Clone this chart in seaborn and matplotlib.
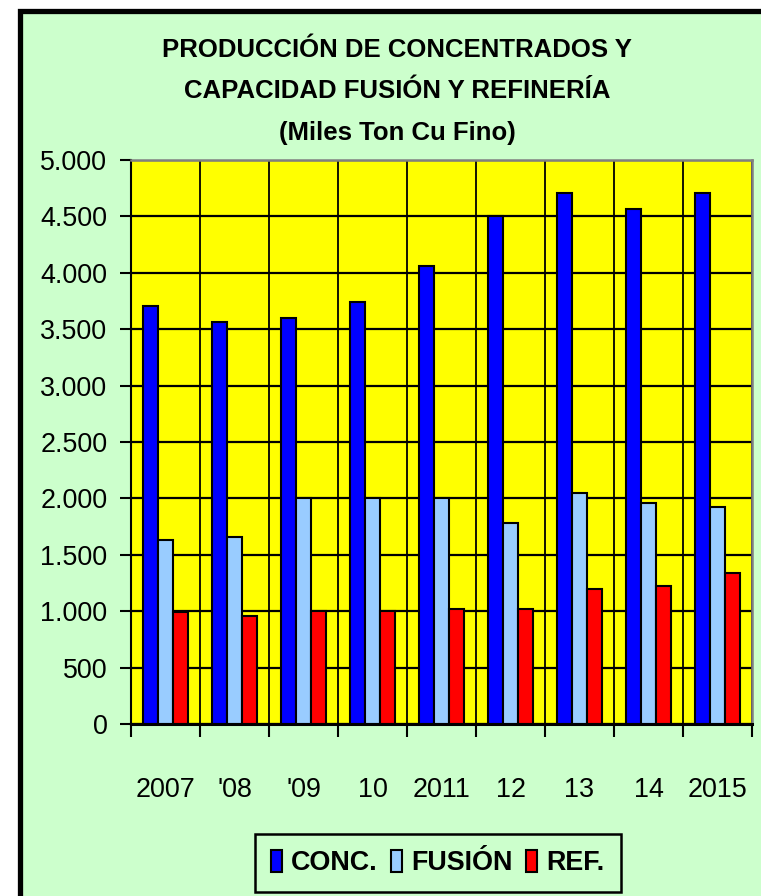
import matplotlib
matplotlib.use("Agg")
import matplotlib.pyplot as plt
from matplotlib import font_manager as fm
from matplotlib.patches import Rectangle
from matplotlib.ticker import FuncFormatter, FixedLocator
import seaborn as sns
import pandas as pd

# datos (miles de ton Cu fino)
anios = ["2007", "'08", "'09", "10", "2011", "12", "13", "14", "2015"]
conc = [3710, 3565, 3595, 3745, 4060, 4505, 4710, 4565, 4710]
fusion = [1635, 1660, 2000, 2000, 2000, 1780, 2045, 1955, 1925]
ref = [990, 960, 1000, 1000, 1020, 1020, 1195, 1225, 1340]
series = ["CONC.", "FUSIÓN", "REF."]
titulo = ["PRODUCCIÓN DE CONCENTRADOS Y",
          "CAPACIDAD FUSIÓN Y REFINERÍA",
          "(Miles Ton Cu Fino)"]

colores = ["#0000FF", "#99CCFF", "#FF0000"]
verde = "#CCFFCC"


def hay_fuente(nombre):
    try:
        fm.findfont(fm.FontProperties(family=nombre), fallback_to_default=False)
        return True
    except ValueError:
        return False


if hay_fuente("Liberation Sans Narrow"):
    fuente, k = "Liberation Sans Narrow", 1.0
else:
    fuente, k = "Liberation Sans", 0.88
plt.rcParams["font.family"] = [fuente, "DejaVu Sans"]

df = pd.DataFrame({
    "anio": anios * 3,
    "valor": conc + fusion + ref,
    "serie": [series[0]] * 9 + [series[1]] * 9 + [series[2]] * 9,
})

fig = plt.figure(figsize=(7.61, 8.96), dpi=100, facecolor="white")
# marco del area del grafico
fig.patches.append(Rectangle((20 / 761, -0.1), 1.2, 1.1 - 11 / 896,
                             transform=fig.transFigure, facecolor=verde,
                             edgecolor="black", linewidth=3.8, zorder=-10))

ax = fig.add_axes([131 / 761, 1 - 724 / 896, (752 - 131) / 761, (724 - 160) / 896])
ax.set_facecolor("#FFFF00")
ax.set_axisbelow(True)

sns.barplot(data=df, x="anio", y="valor", hue="serie", palette=colores,
            width=0.64, edgecolor="black", linewidth=1.5, saturation=1,
            ax=ax)

ax.set_xlim(-0.5, 8.5)
ax.set_ylim(0, 5000)
ax.set_yticks(range(0, 5001, 500))
ax.yaxis.set_major_formatter(FuncFormatter(lambda v, p: f"{int(v):,}".replace(",", ".")))
ax.xaxis.set_minor_locator(FixedLocator([i - 0.5 for i in range(10)]))
ax.grid(axis="y", color="black", linewidth=1.6)
ax.grid(axis="x", which="minor", color="black", linewidth=1.3)
ax.grid(axis="x", which="major", visible=False)
ax.set_xlabel("")
ax.set_ylabel("")

ax.tick_params(axis="y", length=8, width=1.5, pad=9, labelsize=22 * k)
ax.tick_params(axis="x", which="major", length=0, pad=38, labelsize=22 * k)
ax.tick_params(axis="x", which="minor", length=9, width=1.5, direction="out")

for lado in ["top", "right"]:
    ax.spines[lado].set_color("#808080")
    ax.spines[lado].set_linewidth(1.8)
ax.spines["left"].set_linewidth(1.5)
ax.spines["bottom"].set_linewidth(2.2)

for texto, y in zip(titulo, [50, 91, 133]):
    fig.text(397 / 761, 1 - y / 896, texto, ha="center", va="center",
             fontsize=18.5, fontweight="bold", family=["Liberation Sans", "DejaVu Sans"])

handles, labels = ax.get_legend_handles_labels()
ax.get_legend().remove()
leg = fig.legend(handles, labels, loc="upper left",
                 bbox_to_anchor=(255 / 761, 1 - 834 / 896), ncol=3,
                 borderaxespad=0, frameon=True, fancybox=False,
                 facecolor=verde, framealpha=1, edgecolor="black",
                 handlelength=0.4, handleheight=0.85, handletextpad=0.35,
                 columnspacing=0.5, borderpad=0.6,
                 prop={"family": [fuente, "DejaVu Sans"], "weight": "bold", "size": 22 * k})
leg.get_frame().set_linewidth(1.8)

fig.savefig("out.png", dpi=100, facecolor=fig.get_facecolor())
